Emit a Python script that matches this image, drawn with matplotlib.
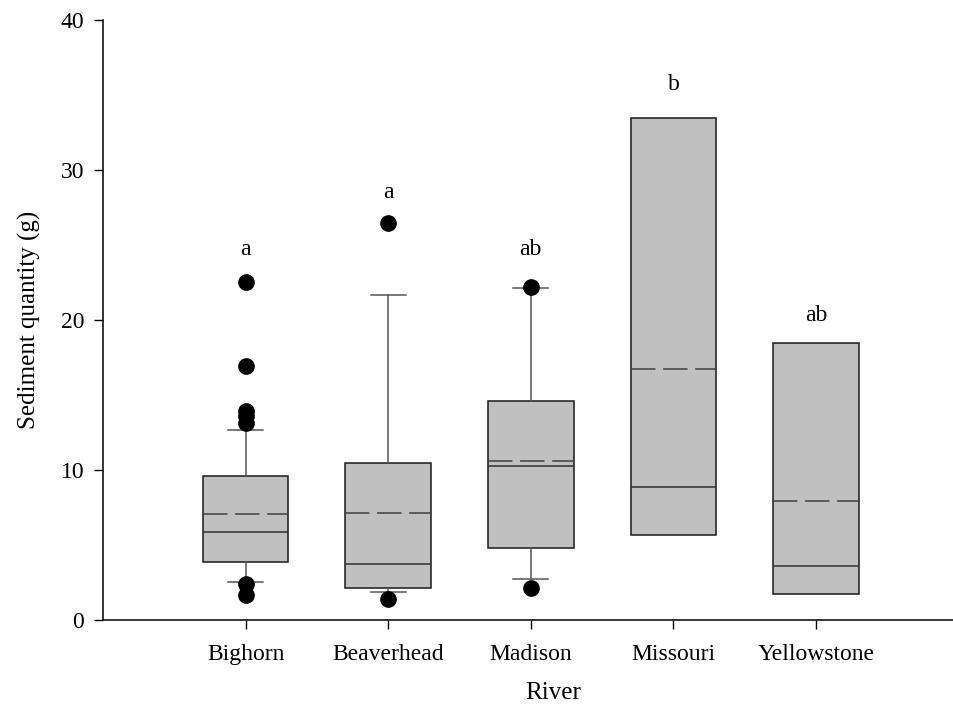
import matplotlib

matplotlib.use("Agg")
import matplotlib.pyplot as plt

# values
rivers = ["Bighorn", "Beaverhead", "Madison", "Missouri", "Yellowstone"]
q1 = [3.85, 2.16, 4.82, 5.67, 1.71]
medians = [5.85, 3.76, 10.27, 8.87, 3.62]
q3 = [9.6, 10.49, 14.62, 33.45, 18.5]
means = [7.06, 7.13, 10.62, 16.73, 7.93]
whisker_low = [2.56, 1.89, 2.73, 5.67, 1.71]
whisker_high = [12.67, 21.69, 22.16, 33.45, 18.5]
outliers = [
    [22.55, 16.93, 13.95, 13.6, 13.15, 2.4, 1.65],
    [26.47, 1.38],
    [22.2, 2.13],
    [],
    [],
]
letters = ["a", "a", "ab", "b", "ab"]
letter_y = [24.7, 28.5, 24.7, 35.7, 20.3]

plt.rcParams["font.family"] = ["Liberation Serif", "DejaVu Serif"]

W, H = 954, 724
fig = plt.figure(figsize=(W / 100, H / 100), dpi=100)
ax = fig.add_axes([103 / W, 104 / H, 855.6 / W, 600 / H])

stats = []
for i, name in enumerate(rivers):
    stats.append({
        "label": name,
        "q1": q1[i],
        "med": medians[i],
        "q3": q3[i],
        "mean": means[i],
        "whislo": whisker_low[i],
        "whishi": whisker_high[i],
        "fliers": outliers[i],
    })

positions = list(range(1, len(rivers) + 1))
# no whiskers drawn where they collapse onto the box
capwidths = [0.0 if lo == a and hi == b else 0.245
             for lo, hi, a, b in zip(whisker_low, whisker_high, q1, q3)]

ax.bxp(
    stats,
    positions=positions,
    widths=0.6,
    capwidths=capwidths,
    patch_artist=True,
    showmeans=True,
    meanline=True,
    boxprops=dict(facecolor="#c0c0c0", edgecolor="#1a1a1a", linewidth=1.1),
    medianprops=dict(color="#303030", linewidth=1.1),
    meanprops=dict(color="#404040", linewidth=1.1, linestyle=(0, (16, 5))),
    whiskerprops=dict(color="#555555", linewidth=1.1),
    capprops=dict(color="#555555", linewidth=1.1),
    flierprops=dict(marker="o", markerfacecolor="black", markeredgecolor="black",
                    markersize=11, linestyle="none"),
)

for x, txt, y in zip(positions, letters, letter_y):
    ax.text(x, y, txt, ha="center", va="center", fontsize=17)

ax.set_xlim(0, 6)
ax.set_ylim(0, 40)
ax.set_yticks([0, 10, 20, 30, 40])
ax.set_xticks(positions)
ax.set_xticklabels(rivers)
ax.tick_params(axis="both", direction="out", length=6.5, width=1, labelsize=17)
ax.tick_params(axis="y", pad=7)
ax.tick_params(axis="x", pad=11)

for side in ["top", "right"]:
    ax.spines[side].set_visible(False)
for side in ["left", "bottom"]:
    ax.spines[side].set_linewidth(1.1)

ax.set_xlabel("River", fontsize=18)
ax.xaxis.set_label_coords((553 - 103) / 855.6, (620 - 693) / 600)
ax.xaxis.label.set_va("center")
ax.set_ylabel("Sediment quantity (g)", fontsize=18)
ax.yaxis.set_label_coords((29 - 103) / 855.6, 0.5)
ax.yaxis.label.set_va("center")

fig.savefig("out.png", dpi=100)
